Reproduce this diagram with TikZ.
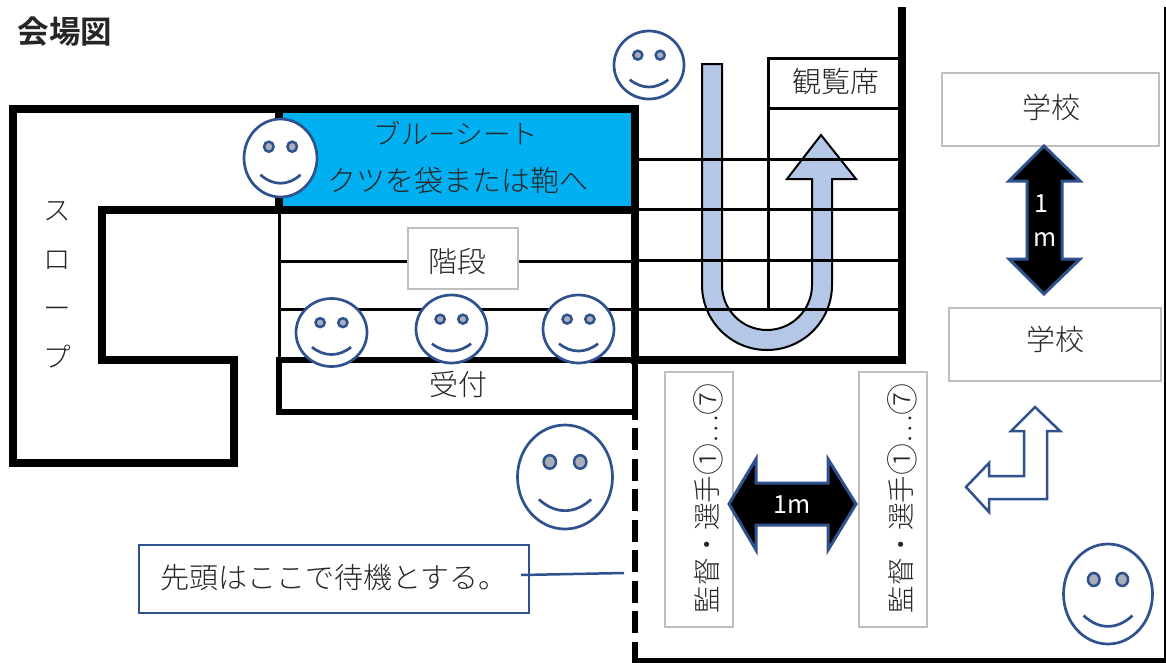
\documentclass[tikz,border=0pt]{standalone}
\usepackage{fontspec}
\setmainfont{Noto Sans CJK JP}[UprightFont=* Light]
\newfontfamily\titlefont{Noto Sans CJK JP Bold}
\newfontfamily\regfont{Noto Sans CJK JP}
\usetikzlibrary{positioning}
\definecolor{navy}{HTML}{2F528F}
\definecolor{sheet}{HTML}{00B0F0}
\definecolor{paleblue}{HTML}{B4C7E7}
\definecolor{boxgray}{HTML}{BFBFBF}
\definecolor{eyegray}{HTML}{A9AEB8}
\definecolor{ink}{HTML}{262626}
\newcommand{\jpsize}{\fontsize{29}{33}\selectfont}
\newcommand{\bigdigit}[1]{\raisebox{-.08em}{\fontsize{32}{32}\selectfont #1}}
\tikzset{
  thickwall/.style={draw=black,line width=8pt,line join=miter},
  midwall/.style={draw=black,line width=6pt},
  thinline/.style={draw=black,line width=3pt},
  label/.style={text=ink,font=\jpsize,inner sep=0pt},
  graybox/.style={draw=boxgray,line width=2.5pt,fill=white,text=ink,font=\jpsize,inner sep=0pt},
  darrow/.style={draw=navy,line width=3pt,fill=black,line join=miter},
  white1m/.style={text=white,font=\fontsize{25}{28}\selectfont\regfont,inner sep=0pt},
  smiley/.pic={
    \draw[navy,line width=2.7pt,fill=white] (0,0) circle (1);
    \draw[navy,line width=2.5pt,fill=eyegray] (-.32,-.29) circle (.13) (.32,-.29) circle (.13);
    \draw[navy,line width=2.7pt] (-.55,.43) .. controls (-.2,.72) and (.2,.72) .. (.55,.43);
  }
}
\begin{document}
\begin{tikzpicture}[x=1pt,y=-1pt]
   \useasboundingbox (0,0) rectangle (1166,662);
   \fill[sheet] (283,113) rectangle (631,206);

   % U arrow under the rows
   \draw[fill=paleblue,line width=2pt,line join=miter] (702,64) -- (702,285)
      arc[start angle=180,end angle=0,radius=65] -- (832,179) -- (856,179) -- (821,135)
      -- (787,179) -- (812,179) -- (812,285)
      arc[start angle=0,end angle=180,radius=45] -- (722,64) -- cycle;

   % rows
   \foreach \ry in {261,309} \draw[thinline] (279,\ry) -- (635,\ry);
   \foreach \ry in {159,209,260,309} \draw[thinline] (635,\ry) -- (902,\ry);
   \draw[thinline] (279,210) -- (279,360);
   \draw[thinline] (768,309) -- (768,58) -- (902,58);
   \draw[thinline] (768,108) -- (902,108);

   % walls
   \draw[thickwall] (635,210) -- (102,210) -- (102,360) -- (234,360) -- (234,463)
      -- (13,463) -- (13,109) -- (635,109) -- (635,364);
   \draw[thickwall] (279,113) -- (279,206);
   \draw[thickwall] (902,7) -- (902,360) -- (635,360);
   \draw[midwall] (635,360) -- (279,360) -- (279,412) -- (635,412);
   \draw[midwall] (635,360) -- (635,420);
   \draw[midwall,dash pattern=on 22pt off 8.5pt] (635,428) -- (635,642);
   \draw[midwall] (635,642) -- (635,662);
   \draw[line width=5pt] (632,660) -- (1166,660);
   \draw[line width=1.5pt] (1165,7) -- (1165,662);

   % labels
   \node[label,font=\fontsize{31.5}{36}\selectfont\titlefont] (title) at (65,32) {会場図};
   \node[label,font=\fontsize{27.5}{33}\selectfont] (sheet1) at (456,133) {ブルーシート};
   \node[label] (sheet2) at (458,180) {クツを袋または鞄へ};
   \node[label,align=center,font=\fontsize{27.5}{49.2}\selectfont] (slope) at (57,285) {ス\\ロ\\ー\\プ};
   \node[graybox,minimum width=110pt,minimum height=61pt] (stairs) at (463,258.5) {};
   \node[label] at (457,261) {階段};
   \node[label] (desk) at (458,384) {受付};
   \node[label] (seats) at (836,82) {観覧席};
   \node[graybox,minimum width=217pt,minimum height=73pt] (school1) at (1050.5,109.5) {};
   \node[label] at (1051,107) {学校};
   \node[graybox,minimum width=212pt,minimum height=73pt] (school2) at (1055,344.5) {};
   \node[label] at (1055,339) {学校};
   \node[graybox,minimum width=68pt,minimum height=255pt] (lane1) at (699,499.5) {};
   \node[graybox,minimum width=68pt,minimum height=255pt] (lane2) at (893,499.5) {};
   \node[label,rotate=90,font=\fontsize{27.5}{33}\selectfont] at (708,498.5) {監督・選手\bigdigit{①}…\bigdigit{⑦}};
   \node[label,rotate=90,font=\fontsize{27.5}{33}\selectfont] at (902,498.5) {監督・選手\bigdigit{①}…\bigdigit{⑦}};

   % arrows
   \draw[darrow] (729,504) -- (756,459) -- (756,483) -- (828,483) -- (828,459) -- (856,504)
      -- (828,550) -- (828,525) -- (756,525) -- (756,550) -- cycle;
   \node[white1m] (gap1) at (792,505) {1m};
   \draw[darrow] (1044,146) -- (1080,181) -- (1062,181) -- (1062,259) -- (1080,259) -- (1044,294)
      -- (1009,259) -- (1027,259) -- (1027,181) -- (1009,181) -- cycle;
   \node[white1m] (gap2a) at (1041,204) {1};
   \node[white1m] (gap2b) at (1045,240) {m};
   \draw[navy,line width=2.5pt,fill=white,line join=miter] (1035,407) -- (1060,431) -- (1047,431) -- (1047,499)
      -- (989,499) -- (989,512) -- (966,487) -- (989,463) -- (989,476) -- (1024,476) -- (1024,431)
      -- (1011,431) -- cycle;

   % faces
   \foreach \fx/\fy/\frx/\fry in {649/65/35/34,280.5/158/36.5/39,331.5/332.5/35.5/34,451.5/329/35.5/34,
      578.5/329/35.5/34,565/477/47.5/52,1108/594/44.5/50}
      \pic[xscale=\frx,yscale=\fry] at (\fx,\fy) {smiley};

   % note
   \node[draw=navy,line width=2.7pt,fill=white,minimum width=390pt,minimum height=68pt,inner sep=0pt] (note) at (334,579) {};
   \node[label,anchor=west] (notetext) at (160,578) {先頭はここで待機とする。};
   \coordinate (noteend) at (521,575);
   \coordinate (queue) at (624,573);
   \draw[navy,line width=2.5pt] (noteend) -- (queue);
\end{tikzpicture}
\end{document}
